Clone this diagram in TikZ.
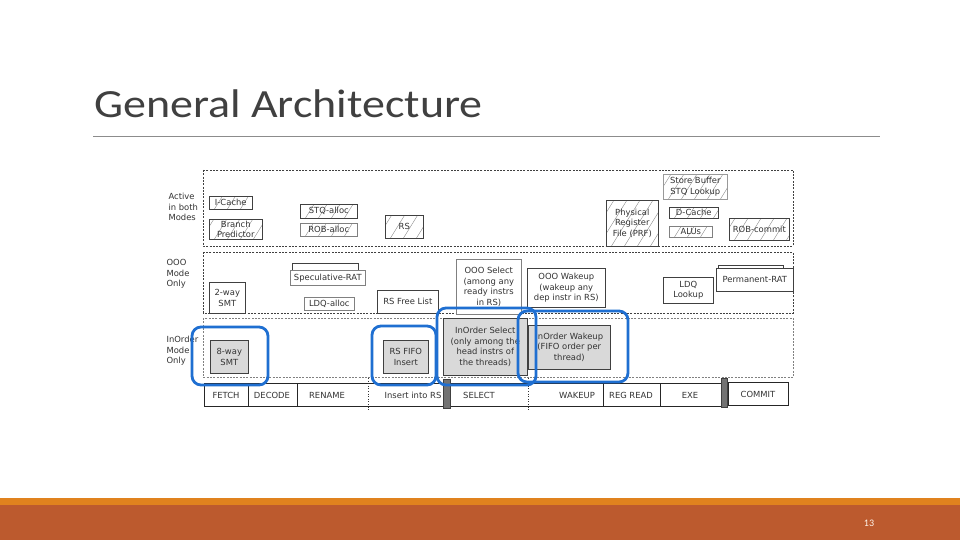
\documentclass[tikz,border=0pt]{standalone}
\usepackage{fontspec}
\newfontfamily\diagfont{DejaVu Sans}
\newfontfamily\titlefont[FakeStretch=1.15]{Carlito}
\newfontfamily\pagefont{Carlito}
\definecolor{blueringc}{HTML}{1F6FD1}
\definecolor{orangebar}{HTML}{E0821E}
\definecolor{brownbar}{HTML}{BC5A2E}
\definecolor{titlegray}{HTML}{404040}
\definecolor{txtc}{HTML}{333333}
\definecolor{grayfillc}{HTML}{D9D9D9}
\begin{document}
\begin{tikzpicture}[x=1pt,y=-1pt,
  dfont/.style={font=\diagfont\fontsize{8.4}{10.6}\selectfont, text=txtc},
  box/.style={dfont, draw=black!75, line width=0.6pt, fill=white, inner sep=0.5pt, align=center, anchor=north west},
  hatch/.style={path picture={\foreach \i in {-60,-47,...,80}{\draw[black!50,line width=0.35pt] ([xshift=\i pt]path picture bounding box.south west) -- ++(36pt,58pt);}}},
  graybox/.style={box, fill=grayfillc},
  region/.style={draw=black!75, line width=0.6pt, dash pattern=on 2pt off 1.3pt},
  lbl/.style={dfont, align=left, anchor=west},
  stage/.style={dfont, draw=black!85, line width=0.6pt, anchor=north west, inner sep=0pt, minimum height=23pt},
  stagetxt/.style={dfont, inner sep=0pt},
  sepbar/.style={fill=black!55, draw=black!75, line width=0.5pt},
  ring/.style={draw=blueringc, line width=2.8pt, rounded corners=9pt}
]
\useasboundingbox (0,0) rectangle (960,540);
\fill[white] (0,0) rectangle (960,540);

% title
\node[font=\titlefont\fontsize{40}{44}\selectfont, text=titlegray, anchor=base west, inner sep=0pt] (title) at (94,118) {General Architecture};
\draw[black!45, line width=0.8pt] (93,136) -- (880,136);

% regions
\draw[region] (203,170) rectangle (793,246);
\draw[region] (203,252) rectangle (793,313);
\draw[region, draw=black!50] (203,318) rectangle (793,377);

% row labels
\node[lbl] (lblactive) at (165,207) {Active\\in both\\Modes};
\node[lbl] (lblooo) at (163,274) {OOO\\Mode\\Only};
\node[lbl] (lblinorder) at (163,351) {InOrder\\Mode\\Only};

% active in both modes
\node[box, hatch, minimum width=43pt, minimum height=13pt] (icache) at (209,196) {I-Cache};
\node[box, hatch, minimum width=53pt, minimum height=20pt] (bpred) at (209,219) {Branch\\Predictor};
\node[box, hatch, minimum width=57pt, minimum height=14pt] (stqalloc) at (300,204) {STQ-alloc};
\node[box, hatch, minimum width=57pt, minimum height=13pt, draw=black!50] (roballoc) at (300,223) {ROB-alloc};
\node[box, hatch, minimum width=38pt, minimum height=23pt] (rs) at (385,215) {RS};
\node[box, hatch, minimum width=64pt, minimum height=25pt, draw=black!40] (storebuf) at (663,174) {Store Buffer\\STQ Lookup};
\node[box, hatch, minimum width=52pt, minimum height=46pt] (prf) at (606,200) {Physical\\Register\\File (PRF)};
\node[box, hatch, minimum width=49pt, minimum height=11pt] (dcache) at (669,207) {D-Cache};
\node[box, hatch, minimum width=43pt, minimum height=11pt, draw=black!50] (alus) at (669,226) {ALUs};
\node[box, hatch, minimum width=60pt, minimum height=22pt] (robcommit) at (729,218) {ROB-commit};

% OOO mode only
\draw[black!75, line width=0.6pt] (292,271) -- (292,263) -- (358,263) -- (358,271);
\node[box, draw=black!50, minimum width=75pt, minimum height=15pt] (specrat) at (290,270) {Speculative-RAT};
\node[box, draw=black!50, minimum width=50pt, minimum height=13pt] (ldqalloc) at (304,297) {LDQ-alloc};
\node[box, minimum width=36pt, minimum height=31pt] (twoway) at (209,282) {2-way\\SMT};
\node[box, minimum width=61pt, minimum height=23pt] (rsfree) at (377,290) {RS Free List};
\node[box, draw=black!50, minimum width=65pt, minimum height=55pt] (oooselect) at (456,259) {OOO Select\\(among any\\ready instrs\\in RS)};
\node[box, minimum width=78pt, minimum height=39pt] (ooowakeup) at (527,268) {OOO Wakeup\\(wakeup any\\dep instr in RS)};
\node[box, minimum width=50pt, minimum height=26pt] (ldqlookup) at (663,277) {LDQ\\Lookup};
\draw[black!75, line width=0.6pt] (718,268) -- (718,265) -- (783,265) -- (783,268);
\node[box, minimum width=77pt, minimum height=23pt] (permrat) at (716,268) {Permanent-RAT};

% in-order mode only
\node[graybox, minimum width=38pt, minimum height=33pt] (eightway) at (210,340) {8-way\\SMT};
\node[graybox, minimum width=45pt, minimum height=33pt] (rsfifo) at (383,340) {RS FIFO\\Insert};
\node[graybox, minimum width=84pt, minimum height=57pt] (ioselect) at (443,318) {InOrder Select\\(only among the\\head instrs of\\the threads)};
\node[graybox, minimum width=82pt, minimum height=44pt] (iowakeup) at (528,325) {InOrder Wakeup\\(FIFO order per\\thread)};

% pipeline
\node[stage, minimum width=44pt] (sfetch) at (204,383) {};
\node[stage, minimum width=49pt] (sdecode) at (248,383) {};
\node[stage, minimum width=306pt] (smid) at (297,383) {};
\node[stage, minimum width=57pt] (sregread) at (603,383) {};
\node[stage, minimum width=61pt] (sexe) at (660,383) {};
\node[stagetxt] (tfetch) at (226,395) {FETCH};
\node[stagetxt] (tdecode) at (272,395) {DECODE};
\node[stagetxt] (trename) at (327,395) {RENAME};
\node[stagetxt] (tinsert) at (413,395) {Insert into RS};
\node[stagetxt] (tselect) at (479,395) {SELECT};
\node[stagetxt] (twakeup) at (577,395) {WAKEUP};
\node[stagetxt] (tregread) at (631,395) {REG READ};
\node[stagetxt] (texe) at (690,395) {EXE};
\node[stage, minimum width=60pt, minimum height=23pt] (scommit) at (728,382) {};
\node[stagetxt] (tcommit) at (758,394) {COMMIT};
\draw[black!80, line width=0.6pt, dotted] (368,378) -- (368,411);
\draw[black!80, line width=0.6pt, dotted] (528,378) -- (528,411);
\draw[sepbar] (443,379) rectangle (450,408);
\draw[sepbar] (721,378) rectangle (727,407);

% highlight rings
\draw[ring] (192,327) rectangle (268,385);
\draw[ring] (372,326) rectangle (436,385);
\draw[ring] (437,308) rectangle (536,385);
\draw[ring] (518,311) rectangle (628,382);

% footer
\fill[orangebar] (0,498) rectangle (960,505);
\fill[brownbar] (0,505) rectangle (960,540);
\node[font=\pagefont\fontsize{10}{11}\selectfont, text=white!92!orange] (pagenum) at (869,523) {13};
\end{tikzpicture}
\end{document}
